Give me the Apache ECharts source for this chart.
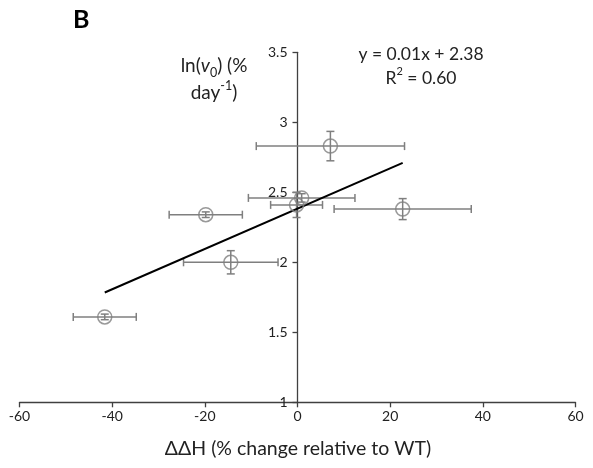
<!DOCTYPE html>
<html>
<head>
<meta charset="utf-8">
<script src="https://cdn.jsdelivr.net/npm/echarts@6/dist/echarts.min.js"></script>
<style>
  html, body { margin: 0; padding: 0; background: #ffffff; }
  #chart { width: 593px; height: 468px; }
</style>
</head>
<body>
<div id="chart"></div>
<script>
// Mutant measurements: ΔΔH (% change relative to WT) vs ln(v0)
const deltaH      = [0.9, -0.2, 7.1, 22.7, -14.4, -19.8, -41.6];
const deltaHErr   = [11.5, 5.6, 16.0, 14.8, 10.2, 7.9, 6.8];
const lnV0        = [2.46, 2.41, 2.83, 2.38, 2.00, 2.34, 1.61];
const lnV0Err     = [0.03, 0.09, 0.105, 0.075, 0.083, 0.02, 0.02];

// Axis ticks
const xTicks = [-60, -40, -20, 0, 20, 40, 60];
const yTicks = [1, 1.5, 2, 2.5, 3, 3.5];

// Least-squares linear trendline
const n = deltaH.length;
const mx = deltaH.reduce((a, b) => a + b, 0) / n;
const my = lnV0.reduce((a, b) => a + b, 0) / n;
let sxy = 0, sxx = 0, syy = 0;
for (let i = 0; i < n; i++) {
  sxy += (deltaH[i] - mx) * (lnV0[i] - my);
  sxx += (deltaH[i] - mx) ** 2;
  syy += (lnV0[i] - my) ** 2;
}
const slope = sxy / sxx;
const intercept = my - slope * mx;
const r2 = (sxy * sxy) / (sxx * syy);
const xMinFit = Math.min(...deltaH), xMaxFit = Math.max(...deltaH);
const fitLine = [[xMinFit, intercept + slope * xMinFit], [xMaxFit, intercept + slope * xMaxFit]];

const FONT = 'Lato, "Liberation Sans", sans-serif';
const GREY = '#7f7f7f';
const AXIS = '#404040';

const GRID_LEFT = 19.5, GRID_RIGHT = 17.5;
const plotWidth = 593 - GRID_LEFT - GRID_RIGHT;

const errData = deltaH.map((x, i) => [x, lnV0[i], deltaHErr[i], lnV0Err[i]]);
const pts = deltaH.map((x, i) => [x, lnV0[i]]);

function renderErr(params, api) {
  const x = api.value(0), y = api.value(1), ex = api.value(2), ey = api.value(3);
  const L = api.coord([x - ex, y]), R = api.coord([x + ex, y]);
  const T = api.coord([x, y + ey]), B = api.coord([x, y - ey]);
  const cap = 4;
  const st = { stroke: GREY, lineWidth: 1.5 };
  const line = (x1, y1, x2, y2) => ({ type: 'line', shape: { x1, y1, x2, y2 }, style: st });
  return {
    type: 'group',
    children: [
      line(L[0], L[1], R[0], R[1]),
      line(L[0], L[1] - cap, L[0], L[1] + cap),
      line(R[0], R[1] - cap, R[0], R[1] + cap),
      line(T[0], T[1], B[0], B[1]),
      line(T[0] - cap, T[1], T[0] + cap, T[1]),
      line(B[0] - cap, B[1], B[0] + cap, B[1])
    ]
  };
}

const chart = echarts.init(document.getElementById('chart'), null, { renderer: 'canvas' });
chart.setOption({
  animation: false,
  backgroundColor: '#ffffff',
  grid: {
    left: GRID_LEFT, right: GRID_RIGHT, top: 52.3, bottom: 65.7,
    containLabel: false, outerBoundsMode: 'none'
  },
  xAxis: {
    type: 'value',
    min: xTicks[0], max: xTicks[xTicks.length - 1], interval: 20,
    axisLine: { onZero: false, lineStyle: { color: AXIS, width: 1.3 } },
    axisTick: { show: true, length: 5, lineStyle: { color: AXIS, width: 1.3 } },
    axisLabel: { color: '#222', fontFamily: FONT, fontSize: 14, margin: 7 },
    splitLine: { show: false }
  },
  yAxis: {
    type: 'value',
    position: 'left',
    // vertical axis sits at ΔΔH = 0, the middle of the plot
    offset: -plotWidth / 2,
    min: yTicks[0], max: yTicks[yTicks.length - 1], interval: 0.5,
    axisLine: { show: true, onZero: false, lineStyle: { color: AXIS, width: 1.3 } },
    axisTick: { show: true, length: 5, lineStyle: { color: AXIS, width: 1.3 } },
    axisLabel: { color: '#222', fontFamily: FONT, fontSize: 14, margin: 10 },
    splitLine: { show: false }
  },
  graphic: [
    { type: 'text', left: 73, top: 7,
      style: { text: 'B', font: 'bold 25px Lato, "Liberation Sans", sans-serif', fill: '#000' } },
    { type: 'text', x: 214, y: 79,
      style: {
        text: '{a|ln(}{i|v}{s|0}{a|) (%}\n{a|day}{p|-1}{a|)}',
        align: 'center', verticalAlign: 'middle',
        rich: {
          a: { fontFamily: FONT, fontSize: 19, lineHeight: 27, fill: '#222' },
          i: { fontFamily: FONT, fontSize: 19, fontStyle: 'italic', lineHeight: 27, fill: '#222' },
          s: { fontFamily: FONT, fontSize: 12.5, lineHeight: 12, verticalAlign: 'bottom', fill: '#222' },
          p: { fontFamily: FONT, fontSize: 12.5, lineHeight: 14, verticalAlign: 'top', fill: '#222' }
        }
      } },
    { type: 'text', x: 421, y: 66,
      style: {
        text: '{a|y = ' + slope.toFixed(2) + 'x + ' + intercept.toFixed(2) + '}\n{a|R}{p|2}{a| = ' + r2.toFixed(2) + '}',
        align: 'center', verticalAlign: 'middle',
        rich: {
          a: { fontFamily: FONT, fontSize: 17.5, lineHeight: 24, fill: '#222' },
          p: { fontFamily: FONT, fontSize: 11, lineHeight: 14, verticalAlign: 'top', fill: '#222' }
        }
      } },
    { type: 'text', x: 298, y: 449,
      style: { text: 'ΔΔH (% change relative to WT)', align: 'center', verticalAlign: 'middle',
        fontFamily: FONT, fontSize: 19.5, fill: '#222' } }
  ],
  series: [
    {
      type: 'line', data: fitLine, symbol: 'none', silent: true,
      lineStyle: { color: '#000', width: 2 }, z: 3
    },
    {
      type: 'custom', data: errData, renderItem: renderErr, z: 2,
      encode: { x: 0, y: 1 }
    },
    {
      type: 'scatter', data: pts, symbol: 'circle', symbolSize: 14, z: 4,
      itemStyle: { color: 'rgba(0,0,0,0)', borderColor: GREY, borderWidth: 1.5 }
    }
  ]
});
</script>
</body>
</html>
